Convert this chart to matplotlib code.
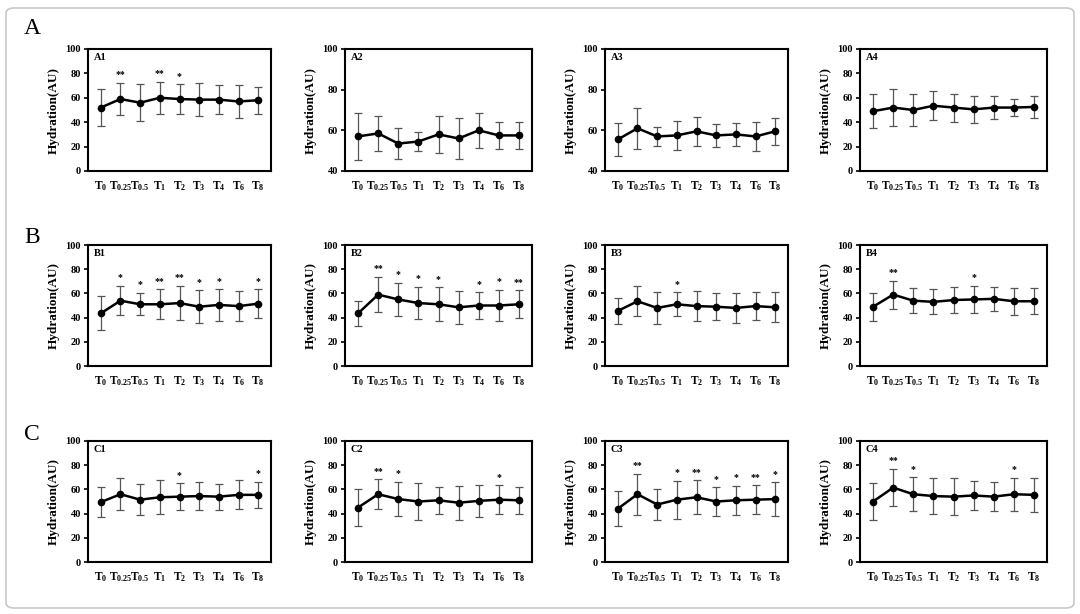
import matplotlib
matplotlib.use('Agg')
from matplotlib import pyplot as plt
from matplotlib.patches import FancyBboxPatch

plt.rcParams['font.family'] = 'Liberation Serif'
plt.rcParams['font.weight'] = 'bold'
plt.rcParams['mathtext.fontset'] = 'custom'
plt.rcParams['mathtext.rm'] = 'Liberation Serif:bold'
plt.rcParams['mathtext.it'] = 'Liberation Serif:bold'
plt.rcParams['mathtext.bf'] = 'Liberation Serif:bold'

times = ['0', '0.25', '0.5', '1', '2', '3', '4', '6', '8']

# means, sd and significance marks for each panel
A1_mean = [52, 59, 56, 60, 59, 58.5, 58.5, 57, 58]
A1_sd = [15, 13, 15, 13, 12, 13.5, 12, 13.5, 11]
A1_sig = ['', '**', '', '**', '*', '', '', '', '']

A2_mean = [57, 58.5, 53.5, 54.5, 58, 56, 60, 57.5, 57.5]
A2_sd = [11.75, 8.5, 7.75, 4.75, 9.25, 10.25, 8.75, 6.5, 6.75]
A2_sig = [''] * 9

A3_mean = [55.5, 61, 57, 57.5, 59.5, 57.5, 58, 57, 59.5]
A3_sd = [8.25, 10, 4.75, 7.25, 7, 5.5, 5.5, 7.25, 6.5]
A3_sig = [''] * 9

A4_mean = [49, 52, 50, 53.5, 52, 50.5, 52, 52, 52.5]
A4_sd = [14, 15, 12.75, 11.75, 11.5, 11, 9.5, 7.25, 9.25]
A4_sig = [''] * 9

B1_mean = [43.5, 54, 51, 51, 52, 49, 50.5, 49.5, 51.5]
B1_sd = [14, 12, 9.25, 12.5, 14.25, 13.5, 13, 12.5, 12]
B1_sig = ['', '*', '*', '**', '**', '*', '*', '', '*']

B2_mean = [43.5, 59, 55, 52, 51, 48.5, 50, 50, 51]
B2_sd = [10.25, 14.5, 13.75, 13.25, 14, 13.5, 11, 13, 11.5]
B2_sig = ['', '**', '*', '*', '*', '', '*', '*', '**']

B3_mean = [45.5, 53.5, 48, 51, 49.5, 49, 48, 49.5, 48.5]
B3_sd = [10.75, 12.5, 13.25, 10, 12.25, 11.25, 12.5, 11.5, 12.25]
B3_sig = ['', '', '', '*', '', '', '', '', '']

B4_mean = [49, 59, 54, 53, 54.5, 55, 55.5, 53.5, 53.5]
B4_sd = [11.5, 11.5, 10.5, 10.25, 10.75, 11.25, 9.75, 11, 10.75]
B4_sig = ['', '**', '', '', '', '*', '', '', '']

C1_mean = [49.5, 56, 51.5, 53.5, 54, 54.5, 54, 55.5, 55.5]
C1_sd = [12.25, 13.25, 13, 14, 11, 11.5, 10.75, 12, 10.5]
C1_sig = ['', '', '', '', '*', '', '', '', '*']

C2_mean = [45, 56, 52, 50, 51, 49, 50.5, 51.5, 51]
C2_sd = [15, 12.25, 14, 15, 11.25, 14, 13, 12, 11]
C2_sig = ['', '**', '*', '', '', '', '', '*', '']

C3_mean = [44, 56, 47.5, 51.5, 53.5, 50, 51, 51.5, 52]
C3_sd = [14.5, 16.75, 13, 15.75, 14, 11.75, 12, 12, 13.75]
C3_sig = ['', '**', '', '*', '**', '*', '*', '**', '*']

C4_mean = [50, 61.5, 56, 54.5, 54, 55, 54, 56, 55.5]
C4_sd = [15.25, 15.5, 14, 14.75, 15.25, 11.75, 12, 13.5, 14.25]
C4_sig = ['', '**', '*', '', '', '', '', '*', '']

panels = [
    ('A1', A1_mean, A1_sd, A1_sig, 0), ('A2', A2_mean, A2_sd, A2_sig, 40),
    ('A3', A3_mean, A3_sd, A3_sig, 40), ('A4', A4_mean, A4_sd, A4_sig, 0),
    ('B1', B1_mean, B1_sd, B1_sig, 0), ('B2', B2_mean, B2_sd, B2_sig, 0),
    ('B3', B3_mean, B3_sd, B3_sig, 0), ('B4', B4_mean, B4_sd, B4_sig, 0),
    ('C1', C1_mean, C1_sd, C1_sig, 0), ('C2', C2_mean, C2_sd, C2_sig, 0),
    ('C3', C3_mean, C3_sd, C3_sig, 0), ('C4', C4_mean, C4_sd, C4_sig, 0),
]

W, H = 1080, 614
fig = plt.figure(figsize=(10.8, 6.14), dpi=100)
fig.patches.append(FancyBboxPatch((6 / W, 6 / H), 1 - 12 / W, 1 - 14 / H,
                                  boxstyle='round,pad=0,rounding_size=0.008',
                                  transform=fig.transFigure, fill=False,
                                  edgecolor='#c8c8c8', linewidth=1.2))

cols = [(88, 271), (345, 532), (605, 788), (860, 1047)]
rows = [(49, 171), (245, 366), (441, 562)]
xs = list(range(len(times)))
xlabels = [r'$\mathrm{T_{%s}}$' % t for t in times]

for i, (name, mean, sd, sig, ymin) in enumerate(panels):
    r, c = divmod(i, 4)
    x0, x1 = cols[c]
    y0, y1 = rows[r]
    ax = fig.add_axes([x0 / W, 1 - y1 / H, (x1 - x0) / W, (y1 - y0) / H])
    ax.errorbar(xs, mean, yerr=sd, color='black', ecolor='#555555',
                elinewidth=0.9, capsize=3, capthick=0.9, linewidth=1.8,
                marker='o', markersize=4.5)
    for x, m, s, star in zip(xs, mean, sd, sig):
        if star:
            ax.text(x, m + s + 3, star, ha='center', va='bottom', fontsize=7)
    ax.set_xlim(-0.65, 8.65)
    ax.set_ylim(ymin, 100)
    ax.set_yticks(range(ymin, 101, 20))
    ax.set_xticks(xs)
    ax.set_xticklabels(xlabels, fontsize=8.3)
    ax.tick_params(axis='x', length=0, pad=6)
    ax.tick_params(axis='y', length=3, width=1.2, labelsize=7.5, pad=2)
    for sp in ax.spines.values():
        sp.set_linewidth(1.5)
    ax.set_ylabel('Hydration(AU)', fontsize=9.5, fontweight='bold', labelpad=4)
    ax.text(0.03, 0.97, name, transform=ax.transAxes, ha='left', va='top',
            fontsize=7.5, fontweight='bold')

for letter, y in zip(['A', 'B', 'C'], [28, 238, 434]):
    fig.text(24 / W, 1 - y / H, letter, fontsize=17, fontweight='normal',
             va='center', ha='left')

fig.savefig('out.png', dpi=100)
